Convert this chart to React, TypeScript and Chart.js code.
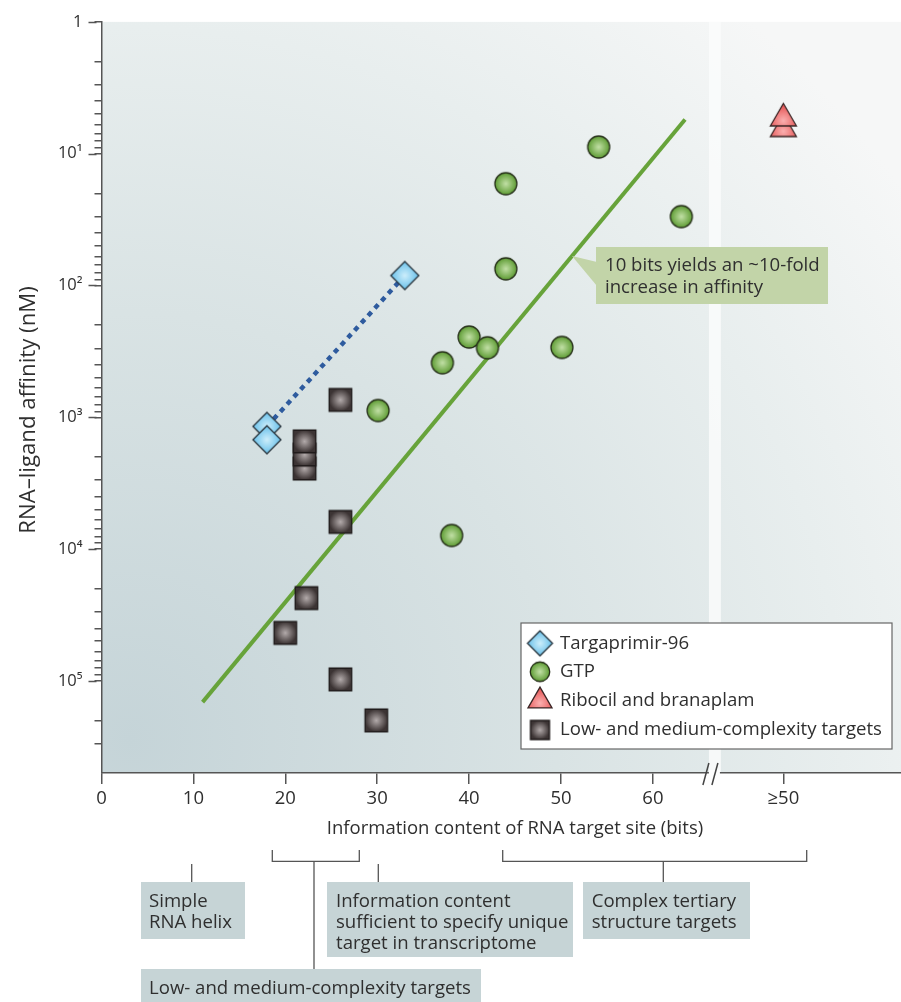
import React, { useEffect, useRef } from 'react';
import { Chart, registerables } from 'chart.js';

Chart.register(...registerables);

const FONT = '"Open Sans", "Noto Sans", "DejaVu Sans", sans-serif';
const TEXT = '#2f2f2f';

// ---- data ----
const X_TICK_VALUES = [0, 10, 20, 30, 40, 50, 60, 74.2];
const X_TICK_LABELS = ['0', '10', '20', '30', '40', '50', '60', '≥50'];
const Y_MAJOR_TICKS = [1, 10, 100, 1000, 10000, 100000];
const Y_MAJOR_LABELS = ['1', '10¹', '10²', '10³', '10⁴', '10⁵'];

const TARGAPRIMIR_X = [18, 18, 33];
const TARGAPRIMIR_Y = [1173, 1479, 84];
const GTP_X = [30.1, 37.1, 38.1, 40.0, 42.0, 44.0, 44.0, 50.1, 54.1, 63.1];
const GTP_Y = [889, 386, 7880, 246, 297, 16.9, 74.8, 295, 8.9, 30];
const RIBOCIL_X = [74.2, 74.2];
const RIBOCIL_Y = [6.5, 5.4];
const LOWMED_X = [26, 22.1, 22.1, 22.1, 26, 22.3, 20, 26, 29.9];
const LOWMED_Y = [738, 2448, 1919, 1524, 6223, 23550, 43250, 97500, 199500];
const TREND_X = [11, 63.5];
const TREND_Y = [145000, 5.5];
const DOTTED_X = [18, 33];
const DOTTED_Y = [1173, 84];

const LEGEND_LABELS = ['Targaprimir-96', 'GTP', 'Ribocil and branaplam', 'Low- and medium-complexity targets'];
const BREAK_START = 66.1;
const BREAK_END = 67.4;

const pts = (xs: number[], ys: number[]) => xs.map((x, i) => ({ x, y: ys[i] }));

type Shape = 'circle' | 'square' | 'diamond' | 'triangle';
function makeMarker(shape: Shape, size: number, light: string, dark: string, stroke: string) {
  const pad = 3;
  const R = shape === 'triangle' ? size / Math.sqrt(3) : size / 2;
  const w = Math.ceil(2 * R + pad * 2);
  const c = document.createElement('canvas');
  c.width = w;
  c.height = w;
  const g = c.getContext('2d')!;
  const cx = w / 2, cy = w / 2, r = size / 2;
  g.beginPath();
  if (shape === 'circle') g.arc(cx, cy, r, 0, Math.PI * 2);
  else if (shape === 'square') g.rect(cx - r, cy - r, size, size);
  else if (shape === 'diamond') {
    g.moveTo(cx, cy - r); g.lineTo(cx + r, cy); g.lineTo(cx, cy + r); g.lineTo(cx - r, cy); g.closePath();
  } else {
    g.moveTo(cx, cy - R); g.lineTo(cx + size / 2, cy + R / 2); g.lineTo(cx - size / 2, cy + R / 2); g.closePath();
  }
  const gy = shape === 'triangle' ? cy + R * 0.15 : cy;
  const grad = g.createRadialGradient(cx, gy, 0, cx, gy, R);
  grad.addColorStop(0, light);
  grad.addColorStop(1, dark);
  g.fillStyle = grad;
  g.fill();
  g.lineWidth = 1.3;
  g.strokeStyle = stroke;
  g.stroke();
  return c;
}

export default function App() {
  const ref = useRef<HTMLCanvasElement>(null);

  useEffect(() => {
    document.body.style.margin = '0';
    const canvas = ref.current!;
    const COL = {
      diamond: ['#cdeefb', '#68c0ea', '#27343d'],
      circle: ['#c2e0a6', '#5e9c34', '#263019'],
      triangle: ['#fbb0b0', '#e65656', '#3a2626'],
      square: ['#b3abab', '#3c3434', '#1f1a1a'],
    } as const;
    const mk = (s: Shape, size: number) => makeMarker(s, size, COL[s][0], COL[s][1], COL[s][2]);
    const plotMarkers = {
      diamond: mk('diamond', 28), circle: mk('circle', 22), triangle: mk('triangle', 26), square: mk('square', 22.5),
    };
    const legendMarkers = [mk('diamond', 25), mk('circle', 19.5), mk('triangle', 24), mk('square', 19)];

    const decor = {
      id: 'decor',
      beforeDraw(chart: any) {
        const { ctx, chartArea: a, scales } = chart;
        ctx.save();
        ctx.fillStyle = '#ffffff';
        ctx.fillRect(0, 0, chart.width, chart.height);
        const g = ctx.createRadialGradient(130, 740, 0, 130, 740, 950);
        g.addColorStop(0, '#c5d4d8');
        g.addColorStop(0.45, '#d9e3e4');
        g.addColorStop(0.75, '#e8eeee');
        g.addColorStop(1, '#f6f7f7');
        ctx.fillStyle = g;
        ctx.fillRect(a.left, a.top, a.right - a.left, a.bottom - a.top);
        const b0 = scales.x.getPixelForValue(BREAK_START);
        const b1 = scales.x.getPixelForValue(BREAK_END);
        ctx.fillStyle = 'rgba(250,252,252,0.85)';
        ctx.fillRect(b0, a.top, b1 - b0, a.bottom - a.top);
        ctx.restore();
      },
      afterDraw(chart: any) {
        const { ctx, chartArea: a, scales } = chart;
        const y = scales.y;
        ctx.save();
        // longer major ticks on y axis
        ctx.strokeStyle = '#555';
        ctx.lineWidth = 1.5;
        Y_MAJOR_TICKS.forEach((v) => {
          const py = Math.round(y.getPixelForValue(v)) + 0.5;
          ctx.beginPath();
          ctx.moveTo(a.left - 13, py);
          ctx.lineTo(a.left - 5, py);
          ctx.stroke();
        });
        // axis break marks
        const bm = (scales.x.getPixelForValue(BREAK_START) + scales.x.getPixelForValue(BREAK_END)) / 2;
        ctx.fillStyle = '#ffffff';
        ctx.fillRect(bm - 6, a.bottom - 3, 11, 6);
        ctx.strokeStyle = '#444';
        ctx.lineWidth = 1.5;
        [[-12, -6], [-3, 3]].forEach(([dx0, dx1]) => {
          ctx.beginPath();
          ctx.moveTo(bm + dx0, a.bottom + 12);
          ctx.lineTo(bm + dx1, a.bottom - 10);
          ctx.stroke();
        });

        const txt = (s: string, x: number, yy: number, size: number, align: CanvasTextAlign = 'left') => {
          ctx.font = `${size}px ${FONT}`;
          ctx.textAlign = align;
          ctx.textBaseline = 'middle';
          ctx.fillStyle = TEXT;
          ctx.fillText(s, x, yy);
        };

        // callout
        ctx.fillStyle = '#c2d4a8';
        ctx.beginPath();
        ctx.moveTo(572, 256);
        ctx.lineTo(597, 262);
        ctx.lineTo(597, 286);
        ctx.closePath();
        ctx.fill();
        ctx.fillRect(596, 247, 232, 57);
        txt('10 bits yields an ~10-fold', 605, 266, 18.6);
        txt('increase in affinity', 605, 287.5, 18.6);

        // legend
        ctx.fillStyle = '#ffffff';
        ctx.fillRect(521, 623, 371, 126);
        ctx.strokeStyle = '#666';
        ctx.lineWidth = 1.2;
        ctx.strokeRect(521, 623, 371, 126);
        const rows = [643.3, 671.7, 701, 730];
        legendMarkers.forEach((m, i) => {
          ctx.drawImage(m, 540 - m.width / 2, rows[i] - m.height / 2);
          txt(LEGEND_LABELS[i], 560, rows[i], 18.6);
        });

        // titles
        txt('Information content of RNA target site (bits)', 515, 829, 18.5, 'center');
        ctx.save();
        ctx.translate(29, 410);
        ctx.rotate(-Math.PI / 2);
        txt('RNA–ligand affinity (nM)', 0, 0, 22.2, 'center');
        ctx.restore();

        // annotation brackets & boxes
        ctx.strokeStyle = '#555';
        ctx.lineWidth = 1.3;
        const line = (pts2: number[][]) => {
          ctx.beginPath();
          pts2.forEach(([px, py], i) => (i ? ctx.lineTo(px, py) : ctx.moveTo(px, py)));
          ctx.stroke();
        };
        line([[191.7, 864], [191.7, 882]]);
        line([[378.3, 864], [378.3, 882]]);
        line([[272.3, 850], [272.3, 861.3], [359.3, 861.3], [359.3, 850]]);
        line([[314, 861.3], [314, 969]]);
        line([[502.7, 850], [502.7, 861.3], [806.7, 861.3], [806.7, 850]]);
        line([[663.3, 861.3], [663.3, 882]]);

        ctx.fillStyle = '#c6d4d6';
        ctx.fillRect(141, 882, 104, 57);
        ctx.fillRect(327, 882, 246, 75);
        ctx.fillRect(583, 882, 167, 57);
        ctx.fillRect(141, 969, 340, 40);

        txt('Simple', 149, 901.7, 18.6);
        txt('RNA helix', 149, 922.7, 18.6);
        txt('Information content', 336, 901.7, 18.6);
        txt('sufficient to specify unique', 336, 922.7, 18.6);
        txt('target in transcriptome', 336, 943.7, 18.6);
        txt('Complex tertiary', 591.7, 901.7, 18.6);
        txt('structure targets', 591.7, 922.7, 18.6);
        txt('Low- and medium-complexity targets', 149, 989, 18.6);
        ctx.restore();
      },
    };

    const chart = new Chart(canvas, {
      type: 'scatter',
      data: {
        datasets: [
          { label: LEGEND_LABELS[0], data: pts(TARGAPRIMIR_X, TARGAPRIMIR_Y), pointStyle: plotMarkers.diamond, pointRadius: 10 },
          { label: LEGEND_LABELS[2], data: pts(RIBOCIL_X, RIBOCIL_Y), pointStyle: plotMarkers.triangle, pointRadius: 10 },
          { label: LEGEND_LABELS[1], data: pts(GTP_X, GTP_Y), pointStyle: plotMarkers.circle, pointRadius: 10 },
          { label: LEGEND_LABELS[3], data: pts(LOWMED_X, LOWMED_Y), pointStyle: plotMarkers.square, pointRadius: 10 },
          {
            label: 'dotted', data: pts(DOTTED_X, DOTTED_Y), showLine: true, pointRadius: 0,
            borderColor: '#2e5b9e', borderWidth: 4.5, borderDash: [5, 5],
          },
          {
            label: 'trend', data: pts(TREND_X, TREND_Y), showLine: true, pointRadius: 0,
            borderColor: '#67a33a', borderWidth: 4,
          },
        ] as any,
      },
      options: {
        responsive: false,
        animation: false,
        events: [],
        layout: { autoPadding: false, padding: { left: 0, top: 20, right: 0, bottom: 189 } },
        plugins: { legend: { display: false }, tooltip: { enabled: false } },
        scales: {
          x: {
            type: 'linear',
            min: 0,
            max: 87,
            afterBuildTicks: (s: any) => { s.ticks = X_TICK_VALUES.map((v) => ({ value: v })); },
            afterFit: (s: any) => { s.height = 40; s.paddingLeft = 0; s.paddingRight = 0; },
            ticks: {
              autoSkip: false,
              maxRotation: 0,
              padding: 4,
              color: TEXT,
              font: { family: FONT, size: 18.5 },
              callback: (_v: any, i: number) => X_TICK_LABELS[i],
            },
            grid: { drawOnChartArea: false, tickLength: 11, color: '#555', lineWidth: 1.5 },
            border: { color: '#555', width: 1.5 },
          },
          y: {
            type: 'logarithmic',
            reverse: true,
            min: 1,
            max: 500000,
            afterBuildTicks: (s: any) => {
              const t: { value: number }[] = [];
              for (let d = 0; d < 5; d++) for (let k = 1; k <= 9; k++) t.push({ value: k * Math.pow(10, d) });
              [100000, 200000, 300000].forEach((v) => t.push({ value: v }));
              s.ticks = t;
            },
            afterFit: (s: any) => { s.width = 101.5; },
            ticks: {
              autoSkip: false,
              padding: 12,
              color: TEXT,
              font: { family: FONT, size: 16.5 },
              callback: (v: any) => {
                const i = Y_MAJOR_TICKS.indexOf(Number(v));
                return i >= 0 ? Y_MAJOR_LABELS[i] : '';
              },
            },
            grid: { drawOnChartArea: false, tickLength: 7, color: '#555', lineWidth: 1.5 },
            border: { color: '#555', width: 1.5 },
          },
        },
      } as any,
      plugins: [decor],
    });
    return () => chart.destroy();
  }, []);

  return <canvas ref={ref} width={901} height={1002} style={{ display: 'block' }} />;
}
